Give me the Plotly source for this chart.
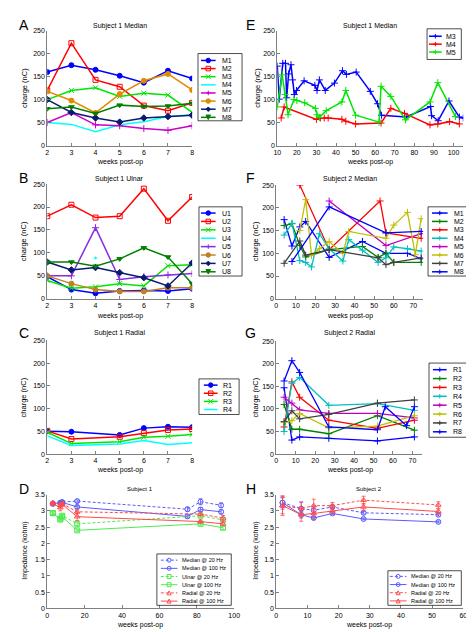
import plotly.graph_objects as go

W, H = 474, 632
FONT = "Liberation Sans, Arial, Helvetica, sans-serif"

# ======================= DATA =======================
# Panel A - Subject 1 Median (weeks 2-8)
s1_weeks = [2, 3, 4, 5, 6, 7, 8]
median1_labels = ["M1", "M2", "M3", "M4", "M5", "M6", "M7", "M8"]
median1_values = [
    [160, 175, 165, 152, 137, 163, 146],
    [120, 223, 143, 128, 87, 76, 93],
    [100, 120, 126, 107, 114, 110, 72],
    [50, 46, 30, 45, 52, 63, 67],
    [50, 72, 45, 43, 37, 33, 43],
    [118, 98, 71, 112, 141, 156, 121],
    [100, 72, 60, 51, 60, 63, 66],
    [80, 84, 70, 88, 85, 86, 92],
]

# Panel B - Subject 1 Ulnar
ulnar1_labels = ["U1", "U2", "U3", "U4", "U5", "U6", "U7", "U8"]
ulnar1_values = [
    [48, 20, 12, 17, 18, 17, 22],
    [180, 205, 177, 180, 240, 170, 222],
    [40, 23, 26, 33, 28, 72, 74],
    [None, None, 89, None, None, None, None],
    [50, 50, 155, 42, 48, 52, 55],
    [50, 33, 20, 16, 16, 24, 24],
    [80, 63, 68, 57, 46, 28, 78],
    [80, 80, 71, 87, 111, 91, 33],
]

# Panel C - Subject 1 Radial
radial1_weeks = [2, 3, 5, 6, 7, 8]
radial1_labels = ["R1", "R2", "R3", "R4"]
radial1_values = [
    [50, 49, 42, 57, 60, 59],
    [51, 33, 38, 46, 53, 55],
    [48, 23, 27, 37, 39, 43],
    [40, 19, 22, 30, 21, 25],
]

# Panel D - Subject 1 impedance
imp1_labels = ["Median @ 20 Hz", "Median @ 100 Hz", "Ulnar @ 20 Hz",
               "Ulnar @ 100 Hz", "Radial @ 20 Hz", "Radial @ 100 Hz"]
imp1_weeks = [
    [3, 7, 8, 16, 75, 82, 93],
    [3, 7, 8, 16, 75, 82, 93],
    [3, 7, 8, 16, 82, 94],
    [3, 7, 8, 16, 82, 94],
    [3, 7, 8, 16, 82, 94],
    [3, 7, 8, 16, 82, 94],
]
imp1_values = [
    [3.22, 3.25, 3.27, 3.30, 3.05, 3.28, 3.17],
    [3.22, 3.24, 3.26, 3.12, 2.83, 3.04, 2.97],
    [2.93, 2.76, 2.85, 2.60, 2.85, 2.72],
    [2.93, 2.73, 2.82, 2.40, 2.60, 2.48],
    [3.25, 3.17, 3.22, 2.97, 2.90, 2.78],
    [3.22, 3.10, 3.20, 2.82, 2.67, 2.60],
]
imp1_errors = [
    [0.04, 0.04, 0.04, 0.04, 0.06, 0.09, 0.07],
    [0.04, 0.04, 0.04, 0.05, 0.05, 0.06, 0.06],
    [0.04, 0.04, 0.04, 0.05, 0.05, 0.08],
    [0.04, 0.04, 0.04, 0.04, 0.04, 0.05],
    [0.04, 0.08, 0.05, 0.06, 0.06, 0.08],
    [0.04, 0.10, 0.05, 0.12, 0.05, 0.06],
]

# Panel E - Subject 1 Median, long term
median1_long_labels = ["M3", "M4", "M5"]
median1_long_weeks = [
    [10, 11, 12.8, 14.2, 14.8, 15.8, 17, 17.8, 18.7, 19.8, 23.7, 29.2, 30.3, 31.5,
     34.5, 39.2, 43.3, 45.3, 50.3, 57.5, 61.2, 63.2, 75.8, 88.3, 88.8, 92.2, 97.7, 103, 105],
    [12, 13.5, 30, 32, 34, 36, 43, 45, 50, 63, 68, 75, 88, 92, 98, 103],
    [10, 12.5, 14, 15.5, 18.5, 20, 24, 29.5, 30.3, 31.5, 35, 43, 45, 50, 62, 63, 68,
     75.5, 88, 92, 101],
]
median1_long_values = [
    [173, 101, 179, 179, 104, 156, 176, 143, 111, 120, 141, 131, 120, 143,
     120, 136, 163, 155, 160, 118, 91, 66, 62, 85, 65, 54, 97, 62, 60],
    [60, 84, 57, 60, 60, 60, 57, 53, 47, 49, 81, 70, 45, 47, 52, 47],
    [84, 154, 111, 67, 100, 98, 93, 81, 67, 61, 76, 95, 120, 66, 51, 129, 107,
     56, 95, 137, 63],
]

# Panel F - Subject 2 Median
median2_labels = ["M1", "M2", "M3", "M4", "M5", "M6", "M7", "M8"]
median2_weeks = [
    [4, 8, 12, 15, 27, 44, 56, 67, 74],
    [4, 8, 12, 15, 27, 44, 52, 56, 60, 74],
    [12, 27, 53, 56, 74],
    [4, 8, 12, 15, 18, 22, 27, 34, 37, 44, 52, 56, 60, 67, 74],
    [27, 56, 74],
    [12, 15, 18, 22, 27, 34, 37, 56, 60, 67, 71, 74],
    [4, 12, 15, 27, 52, 56, 60, 74],
    [8, 27, 56, 74],
]
median2_values = [
    [174, 116, 158, 170, 91, 126, 100, 100, 88],
    [161, 165, 117, 92, 108, 115, 91, 100, 80, 80],
    [250, 108, 215, 145, 133],
    [140, 166, 84, 80, 70, 143, 110, 83, 130, 107, 80, 90, 114, 110, 105],
    [215, 117, 143],
    [150, 218, 95, 110, 126, 100, 148, 133, 162, 190, 97, 176],
    [78, 127, 96, 108, 90, 75, 80, 90],
    [82, 202, 145, 148],
]

# Panel G - Subject 2 Radial
radial2_labels = ["R1", "R2", "R3", "R4", "R5", "R6", "R7", "R8"]
radial2_weeks = [
    [4, 8, 12, 27, 52, 71],
    [4, 8, 12, 27, 52, 71],
    [4, 8, 12, 27, 52, 71],
    [4, 8, 12, 27, 52, 71],
    [4, 8, 12, 27, 52, 71],
    [4, 8, 12, 27, 52, 71],
    [4, 8, 12, 27, 52, 71],
    [4, 8, 12, 27, 52, 56, 67, 71],
]
radial2_values = [
    [147, 31, 38, 35, 29, 38],
    [110, 55, 55, 45, 85, 53],
    [60, 160, 126, 75, 57, 75],
    [50, 157, 170, 108, 112, 97],
    [126, 113, 98, 90, 90, 80],
    [70, 74, 90, 58, 62, 85],
    [72, 96, 78, 88, 113, 120],
    [162, 207, 181, 60, 54, 105, 63, 105],
]

# Panel H - Subject 2 impedance
imp2_labels = ["Median @ 20 Hz", "Median @ 100 Hz", "Radial @ 20 Hz", "Radial @ 100 Hz"]
imp2_weeks = [2, 8, 12, 18, 28, 52]
imp2_values = [
    [3.25, 3.07, 3.02, 3.12, 2.94, 2.88],
    [3.25, 2.88, 2.78, 2.92, 2.75, 2.66],
    [3.16, 3.07, 3.16, 3.16, 3.33, 3.18],
    [3.16, 2.88, 2.92, 3.00, 3.12, 2.98],
]
imp2_errors = [
    [0.20, 0.20, 0.10, 0.05, 0.04, 0.04],
    [0.15, 0.10, 0.05, 0.04, 0.03, 0.03],
    [0.30, 0.20, 0.20, 0.10, 0.12, 0.10],
    [0.25, 0.20, 0.15, 0.10, 0.10, 0.08],
]

# tick labels
charge_ticks = [0, 50, 100, 150, 200, 250]
imp_ticks = [0, 0.5, 1, 1.5, 2, 2.5, 3, 3.5]
imp_tick_text = ["0", "0.5", "1", "1.5", "2", "2.5", "3", "3.5"]

# ======================= STYLES =======================
S1_STYLES = [  # color, symbol
    ("#0000ff", "circle"), ("#ff0000", "square-open"), ("#00e600", "x-thin-open"),
    ("#00ffff", None), ("#cc00cc", "cross-thin-open"), ("#e08a00", "circle"),
    ("#0a1a6e", "diamond"), ("#007f00", "triangle-down"),
]
U_STYLES = [
    ("#0000ff", "circle"), ("#ff0000", "square-open"), ("#00e600", "x-thin-open"),
    ("#00ffff", None), ("#8a2be2", "cross-thin-open"), ("#c08020", "circle"),
    ("#0a1a6e", "diamond"), ("#007f00", "triangle-down"),
]
ML = ["#0000ff", "#008000", "#ff0000", "#00bfbf", "#bf00bf", "#bfbf00", "#404040", "#0000ff"]
E_COLORS = ["#0000ff", "#ff0000", "#00e600"]
IMP_BLUE, IMP_GREEN, IMP_RED = "#5a5aff", "#50ea50", "#ff4a4a"
DASH = "3px,2px"
D_STYLES = [(IMP_BLUE, "circle-open", DASH), (IMP_BLUE, "circle-open", "solid"),
            (IMP_GREEN, "square-open", DASH), (IMP_GREEN, "square-open", "solid"),
            (IMP_RED, "triangle-up-open", DASH), (IMP_RED, "triangle-up-open", "solid")]
H_STYLES = [D_STYLES[0], D_STYLES[1], D_STYLES[4], D_STYLES[5]]

# panel plot boxes in pixels (x0, y0, x1, y1)
BOX = {
    1: (36, 19, 184, 135), 2: (36, 174, 184, 290), 3: (36, 332, 184, 447),
    4: (36, 488, 227, 603), 5: (271, 19, 461, 135), 6: (270, 175, 420, 290),
    7: (270, 333, 419, 447), 8: (270, 488, 461, 603),
}


def px(x):
    return x / W


def py(y):
    return 1 - y / H


fig = go.Figure()
shapes = []
annotations = []


def axname(n, a):
    return a if n == 1 else f"{a}{n}"


def add_series(n, x, y, name, color, symbol, width=1.5, size=5, dash="solid", err=None):
    mode = "lines+markers" if symbol else "lines"
    marker = dict(symbol=symbol or "circle", size=size, color=color,
                  line=dict(color=color, width=1))
    kw = {}
    if err is not None:
        kw["error_y"] = dict(type="data", array=err, visible=True, thickness=0.8,
                             width=2, color=color)
    fig.add_trace(go.Scatter(x=x, y=y, name=name, mode=mode, marker=marker,
                             line=dict(color=color, width=width, dash=dash),
                             xaxis=axname(n, "x"), yaxis=axname(n, "y"),
                             showlegend=False, connectgaps=False, **kw))


def marker_shape(sym, cx, cy, s, color):
    out = []
    if sym is None:
        return out
    ln = dict(color=color, width=1)
    if sym.startswith("circle"):
        out.append(dict(type="circle", x0=px(cx - s), x1=px(cx + s), y0=py(cy + s), y1=py(cy - s),
                        fillcolor=("rgba(0,0,0,0)" if "open" in sym else color), line=ln))
    elif sym.startswith("square"):
        out.append(dict(type="rect", x0=px(cx - s), x1=px(cx + s), y0=py(cy + s), y1=py(cy - s),
                        fillcolor="rgba(0,0,0,0)", line=ln))
    elif sym.startswith("cross"):
        p = f"M{px(cx - s)},{py(cy)} L{px(cx + s)},{py(cy)} M{px(cx)},{py(cy - s)} L{px(cx)},{py(cy + s)}"
        out.append(dict(type="path", path=p, line=ln))
    elif sym.startswith("x"):
        p = (f"M{px(cx - s)},{py(cy - s)} L{px(cx + s)},{py(cy + s)} "
             f"M{px(cx - s)},{py(cy + s)} L{px(cx + s)},{py(cy - s)}")
        out.append(dict(type="path", path=p, line=ln))
    elif sym == "triangle-down":
        p = f"M{px(cx - s)},{py(cy - s)} L{px(cx + s)},{py(cy - s)} L{px(cx)},{py(cy + s)} Z"
        out.append(dict(type="path", path=p, fillcolor=color, line=ln))
    elif sym == "triangle-up-open":
        p = f"M{px(cx - s)},{py(cy + s)} L{px(cx + s)},{py(cy + s)} L{px(cx)},{py(cy - s)} Z"
        out.append(dict(type="path", path=p, fillcolor="rgba(0,0,0,0)", line=ln))
    elif sym == "diamond":
        p = (f"M{px(cx)},{py(cy - s)} L{px(cx + s)},{py(cy)} L{px(cx)},{py(cy + s)} "
             f"L{px(cx - s)},{py(cy)} Z")
        out.append(dict(type="path", path=p, fillcolor=color, line=ln))
    for o in out:
        o.update(xref="paper", yref="paper", layer="above")
    return out


def legend_box(box, row_first, row_last, lx0, lx1, tx, items, fsize=7, ms=2.3, lw=1.5):
    x0, y0, x1, y1 = box
    shapes.append(dict(type="rect", xref="paper", yref="paper", x0=px(x0), x1=px(x1),
                       y0=py(y1), y1=py(y0), fillcolor="white",
                       line=dict(color="#000000", width=0.7), layer="above"))
    n = len(items)
    for i, (label, color, sym, dash) in enumerate(items):
        yy = row_first + (row_last - row_first) * (i / (n - 1) if n > 1 else 0)
        shapes.append(dict(type="line", xref="paper", yref="paper", x0=px(lx0), x1=px(lx1),
                           y0=py(yy), y1=py(yy), line=dict(color=color, width=lw, dash=dash),
                           layer="above"))
        shapes.extend(marker_shape(sym, (lx0 + lx1) / 2, yy, ms, color))
        annotations.append(dict(text=label, x=px(tx), y=py(yy), xref="paper", yref="paper",
                                xanchor="left", yanchor="middle", showarrow=False,
                                font=dict(family=FONT, size=fsize, color="#000")))


def text(t, x, y, size=7, angle=0):
    annotations.append(dict(text=t, x=px(x), y=py(y), xref="paper", yref="paper",
                            xanchor="center", yanchor="middle", showarrow=False,
                            textangle=angle, font=dict(family=FONT, size=size, color="#000")))


# ---------------- traces ----------------
for vals, lab, st in zip(median1_values, median1_labels, S1_STYLES):
    add_series(1, s1_weeks, vals, lab, st[0], st[1], size=5)
for vals, lab, st in zip(ulnar1_values, ulnar1_labels, U_STYLES):
    add_series(2, s1_weeks, vals, lab, st[0], st[1] or ("circle" if lab == "U4" else None),
               size=5 if lab != "U4" else 2)
for vals, lab, st in zip(radial1_values, radial1_labels, S1_STYLES[:4]):
    add_series(3, radial1_weeks, vals, lab, st[0], st[1], size=5)
for xs, vals, err, lab, st in zip(imp1_weeks, imp1_values, imp1_errors, imp1_labels, D_STYLES):
    add_series(4, xs, vals, lab, st[0], st[1], width=1, size=5, dash=st[2], err=err)
for xs, vals, lab, c in zip(median1_long_weeks, median1_long_values, median1_long_labels, E_COLORS):
    add_series(5, xs, vals, lab, c, "cross-thin-open", width=1.5, size=5)
for xs, vals, lab, c in zip(median2_weeks, median2_values, median2_labels, ML):
    add_series(6, xs, vals, lab, c, "cross-thin-open", width=1.3, size=5)
for xs, vals, lab, c in zip(radial2_weeks, radial2_values, radial2_labels, ML):
    add_series(7, xs, vals, lab, c, "cross-thin-open", width=1.3, size=5)
for vals, err, lab, st in zip(imp2_values, imp2_errors, imp2_labels, H_STYLES):
    add_series(8, imp2_weeks, vals, lab, st[0], st[1], width=1, size=5, dash=st[2], err=err)

# ---------------- axes ----------------
common = dict(showline=True, linecolor="#808080", linewidth=1, ticks="inside", ticklen=3,
              tickcolor="#808080", showgrid=False, zeroline=False, fixedrange=True,
              tickfont=dict(family=FONT, size=7, color="#000"))
xranges = {1: ([2, 8], 1), 2: ([2, 8], 1), 3: ([2, 8], 1), 4: ([0, 100], 20),
           5: ([10, 105], 10), 6: ([0, 75], 10), 7: ([0, 75], 10), 8: ([0, 60], 10)}
layout_axes = {}
for n, (x0, y0, x1, y1) in BOX.items():
    xr, dt = xranges[n]
    xa = dict(common, domain=[px(x0), px(x1)], range=xr, dtick=dt, tick0=0,
              anchor=axname(n, "y"))
    if n in (4, 8):
        ya = dict(common, domain=[py(y1), py(y0)], range=[0, 3.5], tickvals=imp_ticks,
                  ticktext=imp_tick_text, anchor=axname(n, "x"))
    else:
        ya = dict(common, domain=[py(y1), py(y0)], range=[0, 250], tickvals=charge_ticks,
                  anchor=axname(n, "x"))
    layout_axes[axname(n, "xaxis")] = xa
    layout_axes[axname(n, "yaxis")] = ya

# ---------------- legends ----------------
legend_box((190, 42, 235, 110), 49, 106.5, 193, 208, 212,
           [(l, s[0], s[1], "solid") for l, s in zip(median1_labels, S1_STYLES)])
legend_box((191, 197, 235, 267), 203.3, 262.7, 193, 208, 212,
           [(l, s[0], s[1], "solid") for l, s in zip(ulnar1_labels, U_STYLES)])
legend_box((191, 371, 232, 407), 377.3, 402, 196, 210, 213,
           [(l, s[0], s[1], "solid") for l, s in zip(radial1_labels, S1_STYLES[:4])])
legend_box((148, 548, 224, 600), 554.3, 595.7, 152, 169, 172,
           [(l, s[0], s[1], s[2]) for l, s in zip(imp1_labels, D_STYLES)], fsize=5.5, ms=2, lw=1)
legend_box((424, 17, 459, 48), 24.5, 40.5, 426, 439, 441,
           [(l, c, "cross-thin-open", "solid") for l, c in zip(median1_long_labels, E_COLORS)])
legend_box((425, 197, 465, 267), 203.3, 262.7, 429, 445, 449,
           [(l, c, "cross-thin-open", "solid") for l, c in zip(median2_labels, ML)])
legend_box((426, 355, 467, 430), 361.7, 424.5, 430, 444, 448,
           [(l, c, "cross-thin-open", "solid") for l, c in zip(radial2_labels, ML)])
legend_box((384, 565, 459, 600), 570.7, 595.5, 386, 403, 406,
           [(l, s[0], s[1], s[2]) for l, s in zip(imp2_labels, H_STYLES)], fsize=5.5, ms=2, lw=1)

# ---------------- text ----------------
for letter, x, y in [("A", 12, 13), ("B", 12, 168), ("C", 12, 325), ("D", 12, 482),
                     ("E", 244, 13), ("F", 244, 168), ("G", 244, 325), ("H", 244, 482)]:
    text(letter, x, y, size=14)
for t, x, y, s in [("Subject 1 Median", 110, 14, 7), ("Subject 1 Ulnar", 110, 169, 7),
                   ("Subject 1 Radial", 110, 325, 7), ("Subject 1", 131, 482, 6),
                   ("Subject 1 Median", 366, 14, 7), ("Subject 2 Median", 345, 169, 7),
                   ("Subject 2 Radial", 345, 325, 7), ("Subject 2", 365, 482, 6)]:
    text(t, x, y, size=s)
for x, y in [(110, 152), (110, 307), (110, 463), (131, 620),
             (366, 152), (345, 307), (345, 463), (365, 620)]:
    text("weeks post-op", x, y, size=7)
for x, y in [(12, 77), (12, 232), (12, 390), (250, 77), (249, 232), (249, 390)]:
    text("charge (nC)", x, y, size=7.5, angle=-90)
for x, y in [(13, 545), (249, 545)]:
    text("Impedance (kohm)", x, y, size=7, angle=-90)

fig.update_layout(
    width=W, height=H, margin=dict(l=0, r=0, t=0, b=0),
    paper_bgcolor="white", plot_bgcolor="white", showlegend=False,
    font=dict(family=FONT, size=7, color="#000"),
    shapes=shapes, annotations=annotations, **layout_axes,
)

fig.write_html("out.html")
